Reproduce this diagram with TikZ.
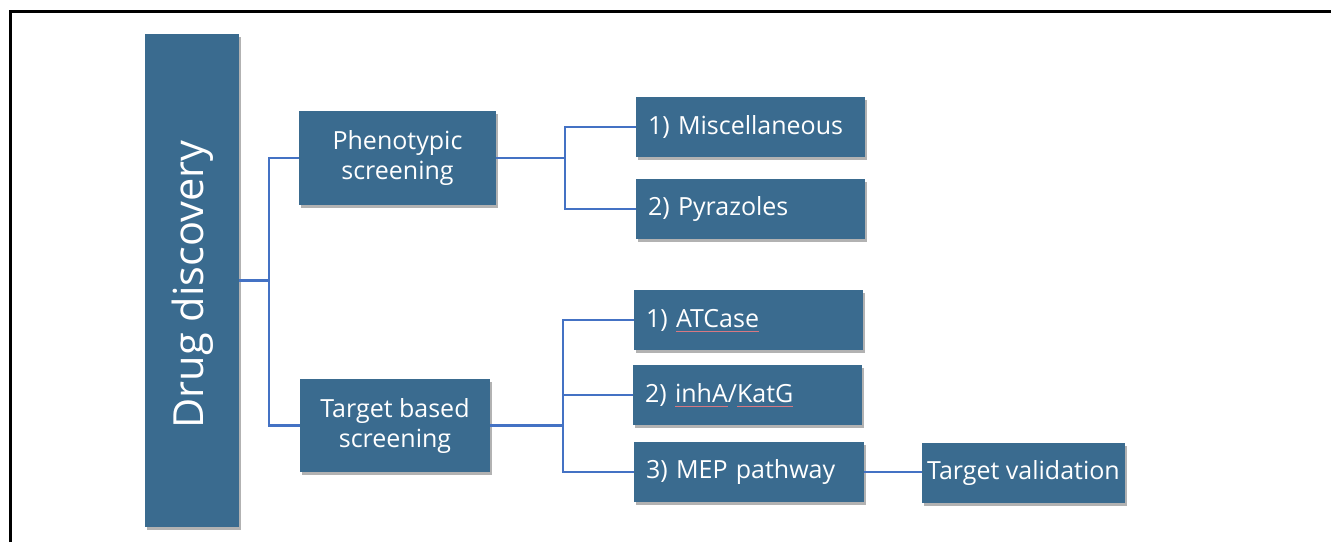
\documentclass[tikz,border=0pt]{standalone}
\usepackage{fontspec}
\setmainfont{Open Sans}
\usetikzlibrary{shadows}
\definecolor{boxblue}{RGB}{58,107,143}
\definecolor{linkblue}{RGB}{68,114,196}
\definecolor{spellred}{RGB}{215,120,130}
\newcommand\redul[1]{\setbox0\hbox{#1}\rlap{\color{spellred}\raisebox{-4pt}{\rule{\wd0}{0.5pt}}}\box0}
\tikzset{
  box/.style={rectangle, fill=boxblue, text=white, inner sep=0pt,
    drop shadow={shadow xshift=2pt, shadow yshift=-3pt, opacity=0.3, fill=black}},
  bigbox/.style={box, font=\fontsize{25}{30}\selectfont, align=center},
  leaf/.style={box, minimum height=60pt, font=\fontsize{25}{28}\selectfont, align=left, inner xsep=12pt},
  conn/.style={draw=linkblue, line width=2.2pt}
}
\begin{document}
\begin{tikzpicture}[x=1pt,y=-1pt]
\fill[white] (0,0) rectangle (1331,542);
\useasboundingbox (0,0) rectangle (1331,542);
\draw[line width=3pt] (10,542) -- (10,11) -- (1331,11);
\node[box, minimum width=94pt, minimum height=493pt] (drug) at (192,280.5) {};
\node[rotate=90, text=white, font=\fontsize{41.5}{46}\selectfont] (drugtxt) at ([xshift=1pt,yshift=-4pt]drug.center) {Drug discovery};
\node[bigbox, minimum width=197pt, minimum height=94pt] (pheno) at (397.5,158) {Phenotypic\\screening};
\node[bigbox, minimum width=190pt, minimum height=93pt] (target) at (395,425.5) {Target based\\screening};
\node[leaf, minimum width=229pt, text width=205pt] (misc) at (750.5,127) {1) Miscellaneous};
\node[leaf, minimum width=229pt, text width=205pt] (pyr) at (750.5,209) {2) Pyrazoles};
\node[leaf, minimum width=229pt, text width=205pt] (atc) at (748.5,320) {1) \redul{ATCase}};
\node[leaf, minimum width=229pt, text width=205pt] (inha) at (747.5,395) {2) \redul{inhA}/\redul{KatG}};
\node[leaf, minimum width=230pt, text width=206pt] (mep) at (749,472) {3) MEP pathway};
\node[box, minimum width=203pt, minimum height=60pt, font=\fontsize{25}{28}\selectfont] (tv) at (1023.5,473) {Target validation};
\coordinate (j1) at (269,280.5);
\coordinate (j2) at (565,158);
\coordinate (j3) at (563,425.5);
\draw[conn] (drug.east) -- (j1);
\draw[conn] (j1) |- (pheno.west);
\draw[conn] (j1) |- (target.west);
\draw[conn] (pheno.east) -- (j2);
\draw[conn] (j2) |- (misc.west);
\draw[conn] (j2) |- (pyr.west);
\draw[conn] (target.east) -- (j3);
\draw[conn] (j3) |- (atc.west);
\draw[conn] (j3) |- (inha.west);
\draw[conn] (j3) |- (mep.west);
\draw[conn] (mep.east) -- (mep.east -| tv.west);
\end{tikzpicture}
\end{document}
